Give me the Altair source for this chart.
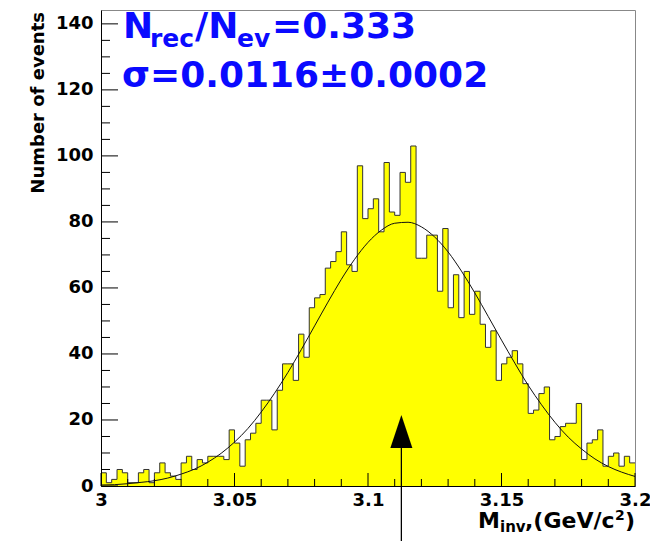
import altair as alt
import pandas as pd

# ---------------- data ----------------
hist_start = 3.0
hist_stop = 3.2
counts = [4, 1, 2, 5, 4, 1, 1, 4, 5, 1,
          4, 7, 4, 3, 2, 7, 9, 5, 8, 7,
          9, 9, 9, 8, 17, 13, 6, 14, 16, 19,
          26, 26, 17, 29, 37, 37, 32, 46, 39, 54,
          57, 58, 66, 68, 71, 77, 67, 65, 97, 81,
          84, 87, 77, 98, 83, 82, 95, 92, 103, 69,
          69, 76, 76, 59, 78, 54, 64, 51, 65, 52,
          59, 49, 42, 47, 32, 37, 39, 41, 37, 31,
          22, 23, 28, 30, 14, 15, 18, 19, 19, 25,
          8, 13, 14, 17, 6, 9, 10, 6, 9, 7]

fit_x = [3.000, 3.005, 3.010, 3.015, 3.020, 3.025, 3.030, 3.035, 3.040, 3.045,
         3.050, 3.055, 3.060, 3.065, 3.070, 3.075, 3.080, 3.085, 3.090, 3.095,
         3.100, 3.105, 3.110, 3.115, 3.120, 3.125, 3.130, 3.135, 3.140, 3.145,
         3.150, 3.155, 3.160, 3.165, 3.170, 3.175, 3.180, 3.185, 3.190, 3.195,
         3.200]
fit_y = [0.3, 0.4, 0.7, 1.1, 1.6, 2.4, 3.6, 5.1, 7.2, 9.9,
         13.3, 17.4, 22.4, 28.1, 34.4, 41.3, 48.5, 55.7, 62.6, 68.7,
         73.8, 77.5, 79.6, 79.9, 78.5, 75.4, 70.9, 65.1, 58.5, 51.4,
         44.2, 37.2, 30.5, 24.6, 19.3, 14.8, 11.2, 8.2, 5.9, 4.2,
         2.9]

y_tick_labels = [0, 20, 40, 60, 80, 100, 120, 140]
y_minor_ticks = [5, 10, 15, 25, 30, 35, 45, 50, 55, 65, 70, 75, 85, 90, 95,
                 105, 110, 115, 125, 130, 135]
x_tick_labels = [3.0, 3.05, 3.1, 3.15, 3.2]
x_minor_ticks = [3.01, 3.02, 3.03, 3.04, 3.06, 3.07, 3.08, 3.09,
                 3.11, 3.12, 3.13, 3.14, 3.16, 3.17, 3.18, 3.19]

arrow_x = [3.1125]
arrow_head_y = [16.5]
arrow_top = [11.5]
arrow_bottom = [-17]

y_title = "Number of events"
blue_line2 = "σ=0.0116±0.0002"

# ---------------- tables ----------------
n_bins = len(counts)
bw = (hist_stop - hist_start) / n_bins
edges = [round(hist_start + i * bw, 4) for i in range(n_bins + 1)]
hist_df = pd.DataFrame({"m": edges, "n": counts + [counts[-1]]})
fit_df = pd.DataFrame({"m": fit_x, "n": fit_y})
arrow_df = pd.DataFrame({"m": arrow_x, "n": arrow_top, "bot": arrow_bottom, "h": arrow_head_y})

W, H = 534, 476
FONT = "DejaVu Sans"
BLUE = "#0a0aff"

xs = alt.Scale(domain=[3.0, 3.2], nice=False, zero=False)
ys = alt.Scale(domain=[0, 144.2], nice=False, zero=False)

x_axis = alt.Axis(values=x_tick_labels, format="~g", labelFont=FONT, labelFontWeight="bold",
                  labelFontSize=18, labelColor="black", labelFlush=False, labelOverlap=False,
                  labelPadding=5, tickSize=0, domainColor="black", domainWidth=1,
                  grid=False, title=None, zindex=1)
y_axis = alt.Axis(values=y_tick_labels, format="d", labelFont=FONT, labelFontWeight="bold",
                  labelFontSize=18, labelColor="black", labelFlush=False, labelOverlap=False,
                  labelPadding=8, tickSize=0, domainColor="black", domainWidth=1,
                  grid=False, title=None, zindex=1)


def X(field):
    return alt.X(field, type="quantitative", scale=xs, axis=x_axis)


def Y(field):
    return alt.Y(field, type="quantitative", scale=ys, axis=y_axis)


area = alt.Chart(hist_df).mark_area(interpolate="step-after", color="#ffff00").encode(
    x=X("m"), y=Y("n"))
outline = alt.Chart(hist_df).mark_line(interpolate="step-after", color="#333333",
                                       strokeWidth=1).encode(x=X("m"), y=Y("n"))
fit = alt.Chart(fit_df).mark_line(interpolate="monotone", color="#111111",
                                  strokeWidth=1).encode(x=X("m"), y=Y("n"))


def yticks(vals, length):
    return alt.Chart(pd.DataFrame({"n": vals})).mark_rule(color="black", strokeWidth=1).encode(
        y=Y("n"), x=alt.value(0), x2=alt.value(length))


def xticks(vals, length):
    return alt.Chart(pd.DataFrame({"m": vals})).mark_rule(color="black", strokeWidth=1).encode(
        x=X("m"), y=alt.value(H), y2=alt.value(H - length))


arrow_line = alt.Chart(arrow_df).mark_rule(color="black", strokeWidth=1.3).encode(
    x=X("m"), y=Y("n"), y2="bot:Q")
arrow_head = alt.Chart(arrow_df).mark_point(
    shape="M0,-1L-0.667,1L0.667,1Z", filled=True, color="black", opacity=1, size=1089
).encode(x=X("m"), y=Y("h"))


def label(text, x, y, size, color="black", angle=0, align="left"):
    return alt.Chart(alt.Data(values=[{"t": text}])).mark_text(
        font=FONT, fontWeight="bold", fontSize=size, color=color, align=align,
        baseline="alphabetic", angle=angle,
    ).encode(text="t:N", x=alt.value(x), y=alt.value(y))


texts = [
    label("N", 22, 28, 36, BLUE),
    label("rec", 49, 37, 25, BLUE),
    label("/N", 94, 28, 36, BLUE),
    label("ev", 136, 37, 25, BLUE),
    label("=0.333", 171, 28, 36, BLUE),
    label(blue_line2, 21, 77, 36, BLUE),
    label(y_title, -57, 2, 18, angle=270, align="right"),
    label("M", 377, 518, 22),
    label("inv", 399, 522, 15),
    label(",(GeV/c", 424, 518, 22),
    label("2", 514, 510, 14),
    label(")", 524, 518, 22),
]

chart = alt.layer(
    area, outline, fit,
    yticks(y_tick_labels, 17), yticks(y_minor_ticks, 9),
    xticks(x_tick_labels, 13), xticks(x_minor_ticks, 7),
    arrow_line, arrow_head,
    *texts,
).properties(
    width=W, height=H,
    autosize=alt.AutoSizeParams(type="none"),
    padding={"left": 93, "top": 2, "right": 15, "bottom": 55},
    background="white",
).configure_view(stroke="#888888", strokeWidth=1)

chart.save("out.html", embed_options={"renderer": "svg", "actions": False})
